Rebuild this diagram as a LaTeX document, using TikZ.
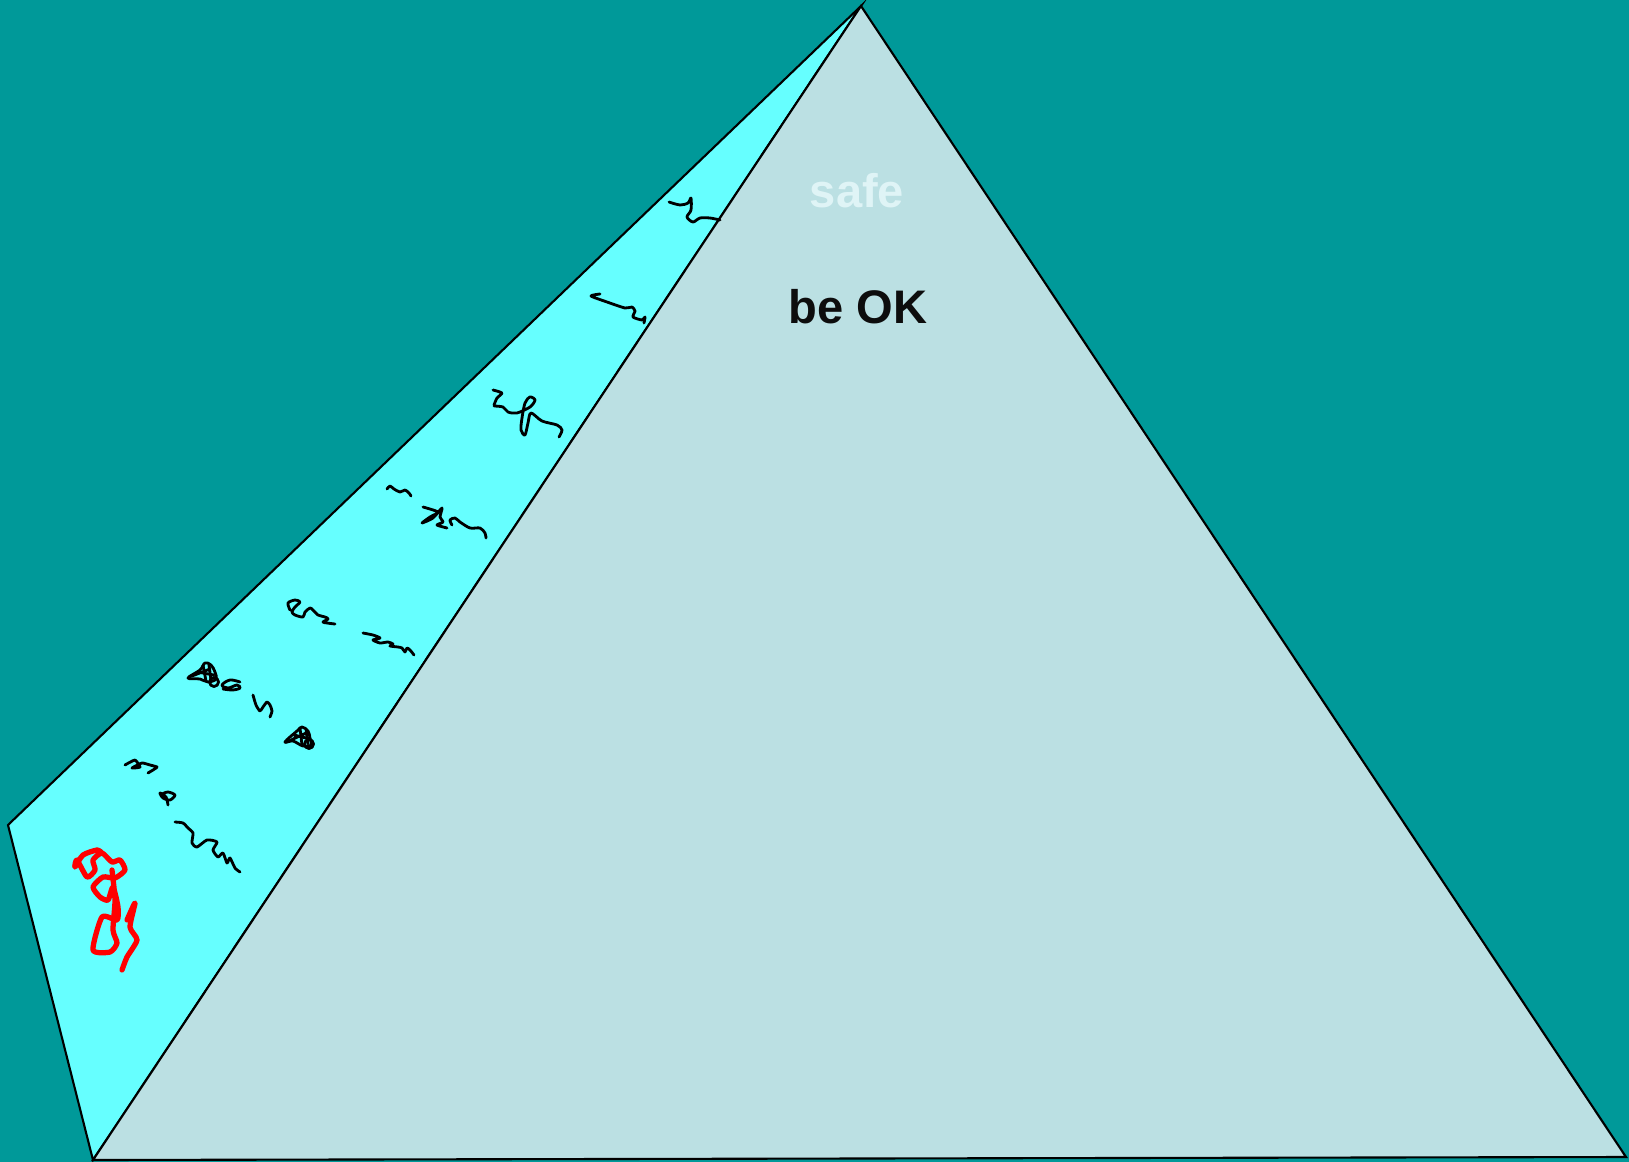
\documentclass[tikz,border=0pt]{standalone}
\usepackage{fontspec}
\setmainfont{Liberation Sans}
\definecolor{sea}{HTML}{009999}
\definecolor{sideface}{HTML}{66FFFF}
\definecolor{frontface}{HTML}{BBE0E3}
\definecolor{palelabel}{HTML}{DFF4F6}
\begin{document}
\begin{tikzpicture}[x=0.1mm,y=-0.1mm,
    face/.style={draw=black,line width=0.6pt,line join=miter},
    ink/.style={draw=black,line width=0.8pt,line cap=round,line join=round},
    redink/.style={draw=red,line width=1.5pt,line cap=round,line join=round},
    every node/.style={font=\bfseries\fontsize{13.4}{16}\selectfont}]
  \useasboundingbox (0,0) rectangle (1629,1162);
  \fill[sea] (0,0) rectangle (1629,1162);
  % pyramid corners
  \coordinate (top) at (861,6);
  \coordinate (back) at (8,825);
  \coordinate (bl) at (93,1160);
  \coordinate (br) at (1626,1157);
  \filldraw[face,fill=sideface] (top) -- (back) -- (bl) -- cycle;
  \filldraw[face,fill=frontface] (top) -- (bl) -- (br) -- cycle;
  \node[text=palelabel,anchor=base] (safe) at (857,207) {safe};
  \node[text=black!95,anchor=base] (ok) at (858,323) {be OK};
  % scribbles on the side face
  \draw[ink] plot[smooth,tension=0.5] coordinates {(669,202) (680,205) (688,203) (691,198) (691,210) (687,217) (693,222) (700,218) (710,218) (720,220)};
  \draw[ink] plot[smooth,tension=0.4] coordinates {(600,294) (591,296) (607,302) (625,308) (632,307) (635,311) (633,317) (642,320) (645,317) (644,323)};
  \draw[ink] plot[smooth,tension=0.4] coordinates {(493,390) (502,393) (497,398) (494,405)};
  \draw[ink] plot[smooth,tension=0.5] coordinates {(494,406) (503,407) (508,412) (517,413) (530,407) (535,400) (530,397) (525,403) (522,418) (521,430) (525,435) (528,423) (531,413) (542,421) (557,425) (562,430) (559,437)};
  \draw[ink] plot[smooth,tension=0.5] coordinates {(387,489) (390,486) (394,489) (400,492) (405,490) (409,493) (411,496)};
  \draw[ink] plot[smooth,tension=0.4] coordinates {(423,507) (438,512) (430,517) (422,523) (433,518) (442,508) (440,517) (443,522) (437,525) (447,528)};
  \draw[ink] plot[smooth,tension=0.5] coordinates {(452,525) (450,520) (455,518) (460,522) (470,528) (480,528) (485,533) (486,538)};
  \draw[ink] plot[smooth,tension=0.5] coordinates {(290,610) (288,603) (295,600) (300,602) (295,607) (292,612) (295,615) (303,617) (305,612) (310,608) (313,610) (318,615) (325,617) (328,619) (323,622) (327,623) (335,624)};
  \draw[ink] plot[smooth,tension=0.4] coordinates {(363,633) (373,635) (380,638) (373,640) (380,643) (388,642) (393,644) (390,646) (398,647) (402,648) (405,652) (407,648) (410,650) (414,655)};
  % blob with circle
  \draw[ink] plot[smooth cycle,tension=0.6] coordinates {(188,678) (200,670) (205,663) (211,665) (215,672) (216,679) (208,682) (200,679)};
  \draw[ink] (197,672) -- (214,675) (203,665) -- (206,681) (209,665) -- (211,680) (192,676) -- (210,669);
  \draw[ink] (214,682) circle (4.5);
  \draw[ink] plot[smooth,tension=0.6] coordinates {(240,682) (230,680) (222,685) (228,688) (237,685) (240,688) (233,690) (223,689)};
  \draw[ink] plot[smooth,tension=0.4] coordinates {(253,695) (256,705) (260,711) (263,707) (267,702) (270,705) (272,711) (270,717)};
  \draw[ink] plot[smooth cycle,tension=0.6] coordinates {(285,742) (297,731) (302,727) (308,731) (310,738) (311,745) (303,746) (293,741)};
  \draw[ink] (294,735) -- (310,739) (300,728) -- (302,745) (306,729) -- (308,744) (289,741) -- (306,733);
  \draw[ink] (309,744) circle (4.5);
  \draw[ink] plot[smooth,tension=0.3] coordinates {(125,765) (135,760) (140,767) (132,768) (142,763) (150,765) (157,767) (153,770) (148,773)};
  \draw[ink] plot[smooth,tension=0.5] coordinates {(168,805) (166,797) (160,793) (163,798) (170,800) (175,795) (168,792) (162,794)};
  \draw[ink] plot[smooth,tension=0.4] coordinates {(175,822) (183,823) (188,828) (193,833) (192,843) (197,847) (207,840) (217,842) (213,850) (218,857) (223,853) (227,863) (230,858) (235,868) (240,872)};
  % red scrawl
  \draw[redink] plot[smooth,tension=0.4] coordinates {(102,853) (97,850) (83,855) (75,867) (77,860) (87,877) (95,870) (93,860) (102,853) (112,862) (120,860) (125,870) (115,878) (103,877) (93,887) (100,897) (108,900) (113,887) (118,907) (117,920) (102,917) (93,950) (110,952) (117,943) (113,930) (115,900) (112,870)};
  \draw[redink] plot[smooth,tension=0.4] coordinates {(127,920) (135,903) (130,927) (137,940) (127,957) (122,970)};
\end{tikzpicture}
\end{document}
